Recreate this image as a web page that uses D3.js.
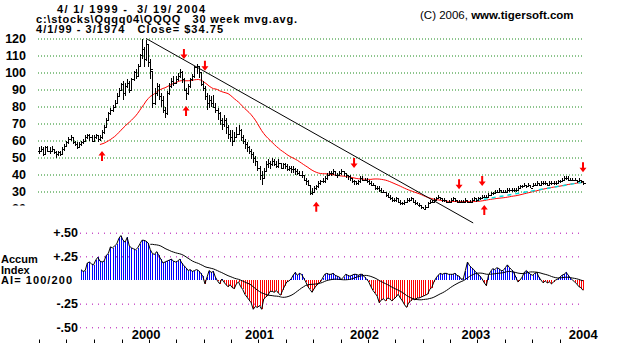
<!DOCTYPE html>
<html><head><meta charset="utf-8">
<script src="https://cdn.jsdelivr.net/npm/d3@7"></script>
<style>
body{margin:0;background:#fff}
svg{display:block}
text{font-family:"Liberation Sans",Arial,sans-serif;font-weight:bold;fill:#000}
</style>
</head><body>
<svg id="chart" width="620" height="343"></svg>
<script>
// Weekly QQQ bars, first week of April 1999 to mid-March 2004
const firstWeek = new Date(1999, 3, 1);
const weeklyHigh = [
56,57,56,57,57,56,57,55,54,54, 54,56,58,60,62,63,62,60,59,59,
60,61,63,64,64,63,63,64,63,63, 66,69,73,77,79,81,84,88,91,94,
95,94,96,95,97,101,102,105,111,120, 115,119,117,108,101,91,94,93,88,86,
80,89,94,97,98,98,100,102,101,97, 91,93,97,99,104,105,104,100,95,92,
88,87,86,87,82,79,77,73,75,73, 69,66,66,65,68,69,67,63,61,59,
57,55,53,51,48,45,42,44,48,49, 48,50,49,48,49,47,47,47,46,45,
45,45,44,43,42,42,40,38,37,34, 32,33,34,36,37,38,39,41,42,42,
43,42,41,42,43,42,41,40,40,38, 37,36,37,39,39,38,38,37,36,35,
34,33,33,32,31,30,29,28,27,26, 27,26,25,24,25,26,26,27,26,25,
24,23,22,21,22,24,25,25,26,27, 28,27,26,26,25,25,26,27,26,25,
25,25,25,26,25,25,26,27,26,27, 27,28,28,28,29,30,30,31,31,32,
31,31,31,32,32,32,32,32,33,34, 34,35,34,35,34,35,35,36,35,36,
36,36,35,36,36,36,36,37,37,38, 39,39,39,38,38,38,37,38,37,36];
const weeklyLow = [
52,53,51,52,53,52,53,52,50,51, 51,52,54,56,58,60,58,57,55,56,
57,58,59,61,60,59,59,61,59,60, 61,64,68,72,75,77,79,82,86,89,
84,86,91,88,89,95,96,98,103,108, 103,107,103,96,79,81,86,84,80,76,
73,75,87,91,92,93,95,97,94,89, 84,87,91,95,97,99,97,92,89,84,
78,79,80,79,76,72,69,66,68,64, 61,59,57,59,62,63,60,58,55,53,
52,49,47,45,42,37,34,38,42,44, 43,45,45,44,44,43,43,43,42,42,
41,41,40,40,39,38,36,34,33,28, 28,29,31,32,34,35,35,37,39,39,
40,39,38,39,40,39,38,37,36,35, 34,34,34,35,36,36,35,34,33,33,
31,31,30,29,29,27,26,25,24,24, 24,23,22,22,22,23,24,25,23,22,
22,21,20,19.5,20,21,23,23,24,25, 26,25,24,24,23,23,24,25,24,23,
23,23,23,24,23,23,24,25,24,25, 25,26,26,26,27,28,28,29,29,30,
29,29,29,30,30,30,30,30,31,32, 32,33,32,33,32,33,33,34,33,34,
34,34,33,34,34,34,34,35,35,36, 37,37,36,36,36,36,35,36,35,34];
const weeklyClose = [
54,55,52,56,54,54,55,53,52,53, 52,55,57,59,61,62,59,58,56,58,
59,60,62,63,62,60,62,63,61,62, 65,68,72,76,78,80,82,86,90,93,
88,92,94,90,96,100,98,104,110,114, 108,117,106,102,82,88,92,86,84,78,
76,88,92,95,94,96,98,100,96,90, 88,92,96,98,103,104,100,93,91,86,
82,84,82,80,78,76,72,70,72,68, 64,62,60,62,64,66,62,60,58,56,
54,52,50,48,44,40,38,42,46,47, 46,48,46,45,47,44,46,45,43,44,
43,43,42,41,40,40,37,36,34,29, 30,32,33,35,36,36,38,40,41,41,
42,40,40,41,42,41,40,39,38,36, 36,35,36,38,37,37,36,35,34,34,
32,32,31,30,30,28,27,26,25,25, 26,24,23,23,24,25,25,26,24,23,
22,22,21,20,21,23,24,24,25,26, 27,26,25,25,24,24,25,26,25,24,
24,24,24,25,24,24,25,26,25,26, 26,27,27,27,28,29,29,30,30,31,
30,30,30,31,31,31,31,31,32,33, 33,34,33,34,32,34,34,35,34,35,
35,35,34,35,35,35,35,36,36,37, 38,38,37,37,37,37,36,37,36,34.75];

// Accumulation Index, weekly from week 20 onward
const aiFirstWeek = 20;
const aiValues = [
0.11,0.09,0.10,0.18,0.19,0.17,0.16,0.21,0.24,0.20,
0.19,0.20,0.26,0.28,0.35,0.34,0.36,0.38,0.44,0.47,
0.42,0.40,0.45,0.36,0.34,0.33,0.32,0.34,0.38,0.42,
0.42,0.41,0.39,0.32,0.28,0.27,0.30,0.26,0.22,0.18,
0.19,0.20,0.21,0.22,0.20,0.19,0.20,0.22,0.18,0.15,
0.13,0.10,0.11,0.09,0.10,0.11,0.10,0.07,0.04,-0.04,
0.03,0.10,0.08,0.09,0.03,-0.01,-0.04,0.01,-0.02,-0.05,
-0.07,-0.05,-0.08,-0.09,-0.04,-0.02,-0.07,-0.10,-0.15,-0.18,
-0.21,-0.24,-0.31,-0.28,-0.29,-0.27,-0.31,-0.20,-0.18,-0.16,
-0.12,-0.12,-0.13,-0.11,-0.14,-0.16,-0.11,-0.06,-0.02,-0.01,
0.01,0.05,0.08,0.05,0.07,0.06,0.02,-0.02,-0.07,-0.10,
-0.13,-0.09,-0.06,-0.04,-0.02,0.02,0.06,0.07,0.06,0.06,
0.07,0.05,0.04,0.03,0.01,0.03,0.06,0.05,0.04,0.05,
0.06,0.06,0.05,0.06,0.06,0.03,0.01,-0.02,-0.07,-0.11,
-0.14,-0.17,-0.24,-0.21,-0.20,-0.22,-0.19,-0.20,-0.22,-0.20,
-0.18,-0.15,-0.19,-0.22,-0.26,-0.29,-0.24,-0.22,-0.20,-0.21,
-0.19,-0.19,-0.18,-0.17,-0.16,-0.15,-0.10,-0.08,-0.02,0.02,
0.05,0.07,0.06,0.07,0.07,0.06,0.06,0.06,0.07,0.05,
0.04,0.01,0.01,0.10,0.19,0.15,0.13,0.11,0.08,0.06,
0.04,0.01,-0.03,-0.06,0.05,0.09,0.12,0.11,0.13,0.12,
0.10,0.10,0.13,0.16,0.13,0.11,0.08,0.03,-0.02,0.00,
0.03,0.08,0.10,0.08,0.06,0.05,0.07,0.08,0.03,0.00,
-0.03,-0.01,-0.03,-0.02,-0.04,-0.02,0.00,0.01,0.03,0.05,
0.06,0.08,0.05,0.02,0.00,-0.02,-0.04,-0.07,-0.08,-0.11];

const maWeeks = 30;        // price moving average length
const aiSignalWeeks = 21;  // smoothing of the Accumulation Index
const aiSignalFrom = 53;   // first week the signal line is plotted

// Buy / sell arrows: week, direction, price level of the arrow tip
const arrowWeek  = [30, 69, 70, 79, 132, 150, 200, 211, 212, 259];
const arrowDir   = ["up","down","up","down","up","down","down","down","up","down"];
const arrowLevel = [53.8, 108, 80.3, 101, 24, 43.8, 31.3, 33.2, 22, 41.3];

// Down-trend line from the March 2000 top
const trendDates  = ["2000-03-23", "2003-03-18"];
const trendValues = [120, 11.5];
// Rising support line under the 2003 advance
const supportDates  = ["2003-03-27", "2004-03-18"];
const supportValues = [24.6, 35.5];

const priceTicks = [120,110,100,90,80,70,60,50,40,30];
const aiTicks = [0.5, 0.25, -0.25, -0.5];
const yearLabels = ["2000","2001","2002","2003","2004"];
const yearLabelDates = ["2000-03-23","2001-04-05","2002-03-21","2003-03-27","2004-03-19"];
const monthLetters = ["J","F","M","A","M","J","J","A","S","O","N","D"];

const parse = d3.timeParse("%Y-%m-%d");
const weekDate = i => d3.timeDay.offset(firstWeek, 7 * i);
const lastIdx = weeklyClose.length - 1;

const x = d3.scaleTime().domain([firstWeek, weekDate(lastIdx)]).range([39, 583]);
const yP = d3.scaleLinear().domain([20, 120]).range([208.5, 38.5]);
const yA = d3.scaleLinear().domain([-0.5, 0.5]).range([327.3, 232.7]);

const svg = d3.select("#chart");

// ---------- header ----------
svg.append("text").attr("x", 57).attr("y", 12.5).attr("font-size", 11)
  .attr("textLength", 148).attr("lengthAdjust", "spacing").attr("xml:space","preserve")
  .text("4/ 1/ 1999 -  3/ 19/ 2004");
svg.append("text").attr("x", 36).attr("y", 23).attr("font-size", 11)
  .attr("textLength", 261).attr("lengthAdjust", "spacing").attr("xml:space","preserve")
  .text("c:\\stocks\\Qqqq04\\QQQQ   30 week mvg.avg.");
svg.append("text").attr("x", 36).attr("y", 33).attr("font-size", 11)
  .attr("textLength", 187).attr("lengthAdjust", "spacing").attr("xml:space","preserve")
  .text("4/1/99 - 3/1974   Close= $34.75");
const cr = svg.append("text").attr("x", 420).attr("y", 19).attr("font-size", 11.5);
cr.append("tspan").attr("font-weight", "normal").text("(C) 2006, ");
cr.append("tspan").text("www.tigersoft.com");

// ---------- price panel ----------
const pAxis = svg.append("g").attr("transform", "translate(38,0)")
  .call(d3.axisLeft(yP).tickValues(priceTicks).tickSize(-(583 - 38)).tickPadding(12));
pAxis.select(".domain").remove();
pAxis.selectAll(".tick line").attr("stroke", "#1a8a1a").attr("stroke-dasharray", "1,2");
pAxis.selectAll(".tick text").attr("font-size", 12.5).attr("font-family", null).attr("fill", "#000");
// the 20 level sits at the panel edge and is cut off
const p20 = svg.append("g").attr("transform", "translate(38,0)")
  .call(d3.axisLeft(yP).tickValues([20]).tickSize(0).tickPadding(12));
p20.select(".domain").remove();
p20.selectAll("text").attr("font-size", 12.5).attr("font-family", null);
svg.append("rect").attr("x", 0).attr("y", 205.5).attr("width", 36).attr("height", 12).attr("fill", "#fff");

// 30-week moving average of closes
const ma = [];
for (let i = maWeeks - 1; i <= lastIdx; i++) {
  ma.push({ i, v: d3.mean(weeklyClose.slice(i - maWeeks + 1, i + 1)) });
}
svg.append("path").datum(ma)
  .attr("fill", "none").attr("stroke", "#ff0000").attr("stroke-width", 1)
  .attr("d", d3.line().x(d => x(weekDate(d.i))).y(d => yP(d.v)));

// trend line
svg.append("line")
  .attr("x1", x(parse(trendDates[0]))).attr("y1", yP(trendValues[0]))
  .attr("x2", x(parse(trendDates[1]))).attr("y2", yP(trendValues[1]))
  .attr("stroke", "#000").attr("stroke-width", 1);

// support line (dashed cyan over the average)
svg.append("line")
  .attr("x1", x(parse(supportDates[0]))).attr("y1", yP(supportValues[0]))
  .attr("x2", x(parse(supportDates[1]))).attr("y2", yP(supportValues[1]))
  .attr("stroke", "#00e0e0").attr("stroke-width", 1.5).attr("stroke-dasharray", "4,4");

// weekly open(prior close)-high-low-close bars
const bars = svg.append("g").attr("stroke", "#000").attr("stroke-width", 1).attr("shape-rendering", "crispEdges");
weeklyClose.forEach((c, i) => {
  const cx = Math.round(x(weekDate(i))) + 0.5;
  bars.append("line").attr("x1", cx).attr("x2", cx)
    .attr("y1", yP(weeklyHigh[i])).attr("y2", yP(weeklyLow[i]));
  const cy = Math.round(yP(c)) + 0.5;
  bars.append("line").attr("x1", cx).attr("x2", cx + 2).attr("y1", cy).attr("y2", cy);
  const o = i > 0 ? weeklyClose[i - 1] : c;
  const oy = Math.round(yP(Math.min(weeklyHigh[i], Math.max(weeklyLow[i], o)))) + 0.5;
  bars.append("line").attr("x1", cx - 2).attr("x2", cx).attr("y1", oy).attr("y2", oy);
});

// arrows
const upArrow = "M0,0 L3.5,4.5 L1,4.5 L1,10 L-1,10 L-1,4.5 L-3.5,4.5 Z";
const downArrow = "M0,0 L3.5,-4.5 L1,-4.5 L1,-10 L-1,-10 L-1,-4.5 L-3.5,-4.5 Z";
arrowWeek.forEach((w, k) => {
  svg.append("path")
    .attr("transform", `translate(${x(weekDate(w))},${yP(arrowLevel[k])})`)
    .attr("d", arrowDir[k] === "up" ? upArrow : downArrow)
    .attr("fill", "#ff0000");
});

// ---------- Accumulation Index panel ----------
const aAxis = svg.append("g").attr("transform", "translate(80,0)")
  .call(d3.axisLeft(yA).tickValues(aiTicks).tickSize(-(583 - 80)).tickPadding(2)
    .tickFormat(d => (d > 0 ? "+" : "-") + "." + String(Math.round(Math.abs(d) * 100)).padStart(2, "0")));
aAxis.select(".domain").remove();
aAxis.selectAll(".tick line").attr("stroke", "#b000b0").attr("stroke-dasharray", "1,5");
aAxis.selectAll(".tick text").attr("font-size", 12.5).attr("font-family", null).attr("fill", "#000");

svg.append("text").attr("x", 1).attr("y", 263).attr("font-size", 11).text("Accum");
svg.append("text").attr("x", 1).attr("y", 273.5).attr("font-size", 11).text("Index");
svg.append("text").attr("x", 1).attr("y", 284).attr("font-size", 11)
  .attr("textLength", 71).attr("lengthAdjust", "spacing").text("AI= 100/200");

const aiPts = aiValues.map((v, k) => ({ i: aiFirstWeek + k, v }));
const aiBars = svg.append("g").attr("stroke-width", 1).attr("shape-rendering", "crispEdges");
aiPts.forEach(d => {
  const cx = Math.round(x(weekDate(d.i))) + 0.5;
  aiBars.append("line").attr("x1", cx).attr("x2", cx)
    .attr("y1", yA(0)).attr("y2", yA(d.v))
    .attr("stroke", d.v >= 0 ? "#0000ff" : "#ff0000");
});
svg.append("path").datum(aiPts)
  .attr("fill", "none").attr("stroke", "#000").attr("stroke-width", 1)
  .attr("d", d3.line().x(d => x(weekDate(d.i))).y(d => yA(d.v)));

// smoothed signal line
const signal = [];
aiPts.forEach((d, k) => {
  if (d.i >= aiSignalFrom && k >= aiSignalWeeks - 1) {
    signal.push({ i: d.i, v: d3.mean(aiValues.slice(k - aiSignalWeeks + 1, k + 1)) });
  }
});
svg.append("path").datum(signal)
  .attr("fill", "none").attr("stroke", "#000").attr("stroke-width", 1)
  .attr("d", d3.line().curve(d3.curveMonotoneX).x(d => x(weekDate(d.i))).y(d => yA(d.v)));

// ---------- time axis ----------
yearLabels.forEach((t, k) => {
  svg.append("text").attr("x", x(parse(yearLabelDates[k]))).attr("y", 339)
    .attr("text-anchor", "middle").attr("font-size", 13).text(t);
});
const months = d3.timeMonth.range(d3.timeMonth.ceil(firstWeek), weekDate(lastIdx));
months.forEach(m => {
  const mx = Math.round(x(m)) + 0.5;
  if (m.getMonth() % 3 === 0) {
    svg.append("line").attr("x1", mx).attr("x2", mx).attr("y1", 339.5).attr("y2", 343)
      .attr("stroke", "#000");
  }
  svg.append("text").attr("x", mx + 4.5).attr("y", 351).attr("text-anchor", "middle")
    .attr("font-size", 11).text(monthLetters[m.getMonth()]);
});
</script>
</body></html>
